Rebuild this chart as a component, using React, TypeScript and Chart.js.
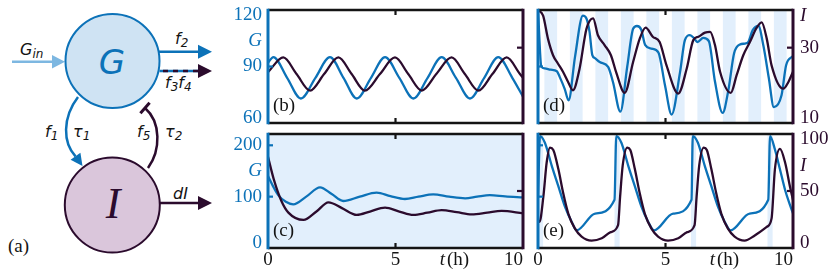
import React, { useEffect, useRef } from 'react';
import { Chart, registerables } from 'chart.js';
Chart.register(...registerables);

const BLUE = '#0c72b8';
const DARK = '#2b0b2d';
const LIGHT = '#e2effc';
const INK = '#141414';
const LIN = '#7db7e1';
const GFILL = '#cfe3f3';
const IFILL = '#dac6db';
const SERIF = '"Liberation Serif", "Times New Roman", serif';
const SANS = '"DejaVu Sans", sans-serif';

// ---------- data (t in hours) ----------
// panel (b): G (left, 60-120), I (right, 10-40)
const bGT = [0, 0.21, 0.75, 1.29, 1.86, 2.43, 2.96, 3.48, 4.04, 4.59, 5.15, 5.7, 6.26, 6.81, 7.37, 7.92, 8.48, 9.03, 9.58, 10];
const bG = [92, 95, 84, 73, 84, 95, 84, 73, 84, 95, 84, 73, 84, 95, 84, 73, 84, 95, 84, 74];
const bIT = [0, 0.6, 1.12, 1.65, 2.2, 2.76, 3.28, 3.8, 4.39, 4.98, 5.5, 6.03, 6.6, 7.2, 7.72, 8.25, 8.8, 9.36, 9.88, 10];
const bI = [23.5, 27.4, 23, 18.6, 23, 27.4, 23, 18.6, 23, 27.4, 23, 18.6, 23, 27.4, 23, 18.6, 23, 27.4, 23, 22];

// panel (c): G (left, 0-222), I (right, 0-100)
const cGT = [0, 0.2, 0.4, 0.7, 0.99, 1.5, 2.04, 2.5, 2.95, 3.6, 4.26, 4.8, 5.37, 5.9, 6.48, 7.1, 7.73, 8.2, 8.7, 9.3, 10];
const cG = [140, 120, 103, 90, 85, 100, 118, 105, 91.5, 100, 107.7, 101, 95.4, 100, 104.5, 100, 96.8, 100, 103, 100.5, 98.7];
const cIT = [0, 0.23, 0.53, 0.8, 1.39, 1.9, 2.37, 2.9, 3.48, 4.0, 4.59, 5.15, 5.7, 6.25, 6.81, 7.4, 7.99, 8.6, 9.16, 10];
const cI = [80, 60, 41, 31, 24.6, 32, 40, 35, 29, 32, 35.4, 32, 29, 31, 33.3, 31.5, 29.5, 31, 32.5, 30.4];

// panel (d): G (left, 60-120), I (right, 10-40)
const dGT = [0, 0.13, 0.26, 0.5, 0.74, 0.85, 1.05, 1.2, 1.45, 1.76, 1.9, 2.02, 2.13, 2.22, 2.42, 2.75, 2.94, 3.23, 3.5, 3.73, 3.88, 4.05, 4.2, 4.45, 4.72, 4.98, 5.24, 5.57, 5.76, 5.96, 6.12, 6.25, 6.48, 6.7, 6.94, 7.24, 7.46, 7.69, 7.92, 8.12, 8.25, 8.42, 8.64, 8.84, 9.05, 9.25, 9.55, 9.73, 10];
const dG = [120, 90, 89, 88.3, 87.5, 84.5, 78, 72, 95, 117, 115.5, 108.5, 96, 94.6, 92.4, 89.8, 81.8, 66, 90, 110, 111.5, 109.5, 101.5, 99.5, 97.5, 80, 64.5, 87, 104, 106.7, 105, 103, 105.2, 103.5, 82, 65.4, 77, 97, 101.7, 102.2, 103.1, 109.3, 111.6, 101, 84, 68.4, 74.7, 90.7, 95.6];
const dIT = [0, 0.2, 0.39, 0.59, 0.78, 0.98, 1.18, 1.37, 1.63, 1.9, 2.16, 2.35, 2.61, 2.86, 3.06, 3.4, 3.73, 3.99, 4.22, 4.5, 4.77, 5.04, 5.5, 5.83, 6.09, 6.29, 6.55, 6.75, 6.94, 7.14, 7.56, 7.79, 8.05, 8.31, 8.56, 8.77, 8.97, 9.16, 9.62, 9.82, 10];
const dI = [40, 38.5, 32.4, 28, 25.8, 23.6, 20.9, 18.7, 24.4, 35, 37.8, 33.3, 30.7, 28, 23.6, 18, 26.2, 32.4, 35.3, 32.9, 31.5, 25.3, 17.8, 24.4, 32, 32.9, 34, 34.2, 30.7, 23.6, 18, 22.7, 28, 31.5, 35.1, 36.7, 32.4, 25.3, 19.1, 20.9, 23.6];
const dStripeStart = [0.25, 1.25, 2.25, 3.25, 4.25, 5.25, 6.25, 7.25, 8.25, 9.25];
const dStripeEnd = [0.75, 1.75, 2.75, 3.75, 4.75, 5.75, 6.75, 7.75, 8.75, 9.75];

// panel (e): G (left, 0-222), I (right, 0-100)
const eGT = [0, 0.08, 0.27, 0.54, 0.8, 1.06, 1.32, 1.52, 2.24, 3.0, 3.07, 3.27, 3.54, 3.8, 4.06, 4.32, 4.55, 5.3, 6.02, 6.07, 6.27, 6.54, 6.8, 7.06, 7.32, 7.55, 8.3, 9.03, 9.1, 9.29, 9.49, 9.69, 9.88, 10];
const eG = [100, 218, 205, 160, 120, 80, 51, 34.5, 67, 94, 218, 205, 160, 120, 80, 51, 34.5, 67, 94, 218, 205, 160, 120, 80, 51, 34.5, 67, 94, 218, 192, 153, 113, 84, 67.5];
const eIT = [0, 0.06, 0.21, 0.34, 0.47, 0.6, 0.8, 0.99, 1.19, 1.45, 1.71, 2.1, 2.5, 2.85, 3.14, 3.22, 3.32, 3.5, 3.62, 3.8, 3.99, 4.19, 4.45, 4.71, 5.1, 5.5, 5.85, 6.14, 6.22, 6.32, 6.5, 6.62, 6.8, 6.99, 7.19, 7.45, 7.71, 8.1, 8.5, 8.97, 9.16, 9.29, 9.49, 9.69, 9.88, 10];
const eI = [24, 23, 45, 75, 88, 86, 69, 48, 30, 17, 10, 6.5, 8.5, 14, 20, 45, 72, 88, 86, 69, 48, 30, 17, 10, 6.5, 8.5, 14, 20, 45, 72, 88, 86, 69, 48, 30, 17, 10, 6.5, 11, 18.5, 26, 69, 87, 75, 54, 42];
const eStripeStart = [0, 3, 6, 9];
const eStripeEnd = [0.2, 3.2, 6.2, 9.2];

// axis tick labels
const xTickVals = [0, 5, 6.84, 7.45, 10];
const xTickText = ['0', '5', 't', '(h)', '10'];
const xMarks = [5];
const gTicksTop = [60, 90, 120];
const gTicksBottom = [0, 100, 200];
const iTicksTop = [10, 30];
const iTicksBottom = [0, 50, 100];

type Spec = {
  gT: number[]; gV: number[]; iT: number[]; iV: number[];
  gMin: number; gMax: number; iMin: number; iMax: number;
  gLabels: number[] | null; gLetterAt: number;
  iLabels: number[] | null; iLetterAt: number;
  showX: boolean; wl: number; wr: number; hx: number; pt: number;
  sS: number[] | null; sE: number[] | null; fullBg: boolean; label: string;
  gMarks: number[]; iMarks: number[];
};

const pts = (t: number[], v: number[]) => t.map((x, i) => ({ x, y: v[i] }));

function makeDeco(s: Spec) {
  const seg = (ctx: CanvasRenderingContext2D, x1: number, y1: number, x2: number, y2: number) => {
    ctx.beginPath(); ctx.moveTo(x1, y1); ctx.lineTo(x2, y2); ctx.stroke();
  };
  return {
    id: 'deco',
    beforeDatasetsDraw(chart: any) {
      const { ctx, chartArea: a, scales } = chart;
      ctx.save();
      ctx.fillStyle = LIGHT;
      if (s.fullBg) ctx.fillRect(a.left, a.top, a.right - a.left, a.bottom - a.top);
      if (s.sS && s.sE) {
        s.sS.forEach((st, k) => {
          const x0 = scales.x.getPixelForValue(st);
          const x1 = scales.x.getPixelForValue(s.sE![k]);
          ctx.fillRect(x0, a.top, x1 - x0, a.bottom - a.top);
        });
      }
      ctx.restore();
    },
    afterDatasetsDraw(chart: any) {
      const { ctx, chartArea: a, scales } = chart;
      ctx.save();
      ctx.lineCap = 'butt';
      ctx.lineWidth = 2.2;
      ctx.strokeStyle = INK;
      xMarks.forEach((v) => {
        const x = scales.x.getPixelForValue(v);
        seg(ctx, x, a.top, x, a.top + 5);
        seg(ctx, x, a.bottom, x, a.bottom - 5);
      });
      ctx.strokeStyle = BLUE;
      s.gMarks.forEach((v) => { const y = scales.yG.getPixelForValue(v); seg(ctx, a.left, y, a.left + 5, y); });
      ctx.strokeStyle = DARK;
      s.iMarks.forEach((v) => { const y = scales.yI.getPixelForValue(v); seg(ctx, a.right, y, a.right - 6, y); });
      ctx.lineWidth = 2.5;
      ctx.strokeStyle = INK;
      seg(ctx, a.left, a.top, a.right, a.top);
      seg(ctx, a.left, a.bottom, a.right, a.bottom);
      ctx.lineWidth = 3;
      ctx.strokeStyle = DARK;
      seg(ctx, a.right, a.top - 1.25, a.right, a.bottom + 1.25);
      ctx.strokeStyle = BLUE;
      seg(ctx, a.left, a.top - 1.25, a.left, a.bottom + 1.25);
      ctx.fillStyle = INK;
      ctx.font = `19px ${SERIF}`;
      ctx.textBaseline = 'alphabetic';
      ctx.textAlign = 'left';
      ctx.fillText(s.label, a.left + 5, a.bottom - 12);
      ctx.restore();
    },
  };
}

function yAxis(pos: 'left' | 'right', min: number, max: number, labels: number[] | null, letter: string, letterAt: number, color: string, width: number, pad: number) {
  return {
    type: 'linear', position: pos, min, max, display: true,
    grid: { display: false, drawTicks: false },
    border: { display: false },
    afterFit: (sc: any) => { sc.width = width; },
    afterBuildTicks: (sc: any) => {
      if (labels) {
        const vals = [...labels, letterAt].sort((p, q) => p - q);
        sc.ticks = vals.map((v) => ({ value: v }));
      }
    },
    ticks: {
      display: !!labels,
      autoSkip: false,
      padding: pad,
      color,
      callback: (v: number) => {
        if (v === letterAt) return letter;
        const t = String(v);
        if (v === max) return ['', t];
        if (v === min) return [t, ''];
        return t;
      },
      font: (c: any) => {
        const v = c.tick ? c.tick.value : null;
        return {
          family: SERIF, size: 19,
          style: v === letterAt ? 'italic' : 'normal',
          lineHeight: v === max || v === min ? 0.55 : 1.2,
        };
      },
    },
  };
}

function makeConfig(s: Spec): any {
  return {
    type: 'line',
    data: {
      datasets: [
        { data: pts(s.iT, s.iV), yAxisID: 'yI', borderColor: DARK, borderWidth: 2.3, pointRadius: 0, cubicInterpolationMode: 'monotone', fill: false },
        { data: pts(s.gT, s.gV), yAxisID: 'yG', borderColor: BLUE, borderWidth: 2.3, pointRadius: 0, cubicInterpolationMode: 'monotone', fill: false },
      ],
    },
    options: {
      animation: false,
      responsive: false,
      devicePixelRatio: 1,
      events: [],
      layout: { padding: { top: s.pt, left: 0, right: 0, bottom: 0 } },
      plugins: { legend: { display: false }, tooltip: { enabled: false } },
      scales: {
        x: {
          type: 'linear', min: 0, max: 10, position: 'bottom', display: true,
          grid: { display: false, drawTicks: false },
          border: { display: false },
          afterFit: (sc: any) => { sc.height = s.hx; },
          afterBuildTicks: (sc: any) => { sc.ticks = xTickVals.map((v) => ({ value: v })); },
          ticks: {
            display: s.showX, autoSkip: false, maxRotation: 0, minRotation: 0, padding: 1, color: INK,
            callback: (v: number) => {
              const t = xTickText[xTickVals.indexOf(v)] ?? '';
              return t === '10' ? '10\u2007\u2007' : t;
            },
            font: (c: any) => ({ family: SERIF, size: 19, style: c.tick && c.tick.value === 6.84 ? 'italic' : 'normal' }),
          },
        },
        yG: yAxis('left', s.gMin, s.gMax, s.gLabels, 'G', s.gLetterAt, BLUE, s.wl, 6),
        yI: yAxis('right', s.iMin, s.iMax, s.iLabels, 'I', s.iLetterAt, DARK, s.wr, 7),
      },
    },
    plugins: [makeDeco(s)],
  };
}

const specB: Spec = {
  gT: bGT, gV: bG, iT: bIT, iV: bI, gMin: 60, gMax: 120, iMin: 10, iMax: 40,
  gLabels: gTicksTop, gLetterAt: 103.5, iLabels: null, iLetterAt: -999,
  showX: false, wl: 50, wr: 25, hx: 27, pt: 30, sS: null, sE: null, fullBg: false, label: '(b)',
  gMarks: [90], iMarks: [30],
};
const specC: Spec = {
  gT: cGT, gV: cG, iT: cIT, iV: cI, gMin: 0, gMax: 222, iMin: 0, iMax: 100,
  gLabels: gTicksBottom, gLetterAt: 150, iLabels: null, iLetterAt: -999,
  showX: true, wl: 50, wr: 25, hx: 26, pt: 30, sS: null, sE: null, fullBg: true, label: '(c)',
  gMarks: [100, 200], iMarks: [50],
};
const specD: Spec = {
  gT: dGT, gV: dG, iT: dIT, iV: dI, gMin: 60, gMax: 120, iMin: 10, iMax: 40,
  gLabels: null, gLetterAt: -999, iLabels: iTicksTop, iLetterAt: 38.4,
  showX: false, wl: 10, wr: 37, hx: 27, pt: 30, sS: dStripeStart, sE: dStripeEnd, fullBg: false, label: '(d)',
  gMarks: [90], iMarks: [30],
};
const specE: Spec = {
  gT: eGT, gV: eG, iT: eIT, iV: eI, gMin: 0, gMax: 222, iMin: 0, iMax: 100,
  gLabels: null, gLetterAt: -999, iLabels: iTicksBottom, iLetterAt: 72,
  showX: true, wl: 10, wr: 37, hx: 26, pt: 30, sS: eStripeStart, sE: eStripeEnd, fullBg: false, label: '(e)',
  gMarks: [100, 200], iMarks: [50],
};

function Panel({ left, top, width, height, spec }: { left: number; top: number; width: number; height: number; spec: Spec }) {
  const ref = useRef<HTMLCanvasElement>(null);
  useEffect(() => {
    const chart = new Chart(ref.current!, makeConfig(spec));
    return () => chart.destroy();
  }, [spec]);
  return <canvas ref={ref} width={width} height={height} style={{ position: 'absolute', left, top, width, height }} />;
}

function Diagram() {
  const it = { fontFamily: SANS, fontStyle: 'italic' as const, fontSize: 16, fill: INK };
  return (
    <svg width={230} height={274} style={{ position: 'absolute', left: 0, top: 0 }}>
      {/* G_in */}
      <line x1={12} y1={61.7} x2={53} y2={61.7} stroke={LIN} strokeWidth={2.5} />
      <polygon points="52,55 65,61.7 52,68.4" fill={LIN} />
      <text x={20} y={55} {...it}>G<tspan fontSize={12} dy={3}>in</tspan></text>
      {/* G node */}
      <circle cx={112.5} cy={61} r={47} fill={GFILL} stroke={BLUE} strokeWidth={2} />
      <text x={112} y={74} textAnchor="middle" fill={BLUE} fontFamily={SANS} fontStyle="italic" fontSize={34}>G</text>
      {/* f2 */}
      <line x1={159} y1={51.7} x2={200} y2={51.7} stroke={BLUE} strokeWidth={2.5} />
      <polygon points="198,44.7 212,51.7 198,58.7" fill={BLUE} />
      <text x={175} y={44} {...it}>f<tspan fontSize={12} dy={3}>2</tspan></text>
      {/* f3 f4 */}
      <line x1={159.5} y1={71} x2={200} y2={71} stroke={BLUE} strokeWidth={2.5} />
      <line x1={163} y1={71} x2={200} y2={71} stroke={DARK} strokeWidth={2.5} strokeDasharray="5 5" />
      <polygon points="198,64 212,71 198,78" fill={DARK} />
      <text x={165} y={88} {...it}>f<tspan fontSize={12} dy={3}>3</tspan><tspan fontSize={16} dy={-3}>f</tspan><tspan fontSize={12} dy={3}>4</tspan></text>
      {/* f1 arc */}
      <path d="M 78 97 C 62 118, 63 143, 75.5 156.3" fill="none" stroke={BLUE} strokeWidth={2.5} />
      <polygon points="82.5,166 70.6,159.8 80.4,152.8" fill={BLUE} />
      <text x={45} y={137} {...it}>f<tspan fontSize={12} dy={3}>1</tspan></text>
      <text x={73} y={137} {...it}>τ<tspan fontSize={12} dy={3}>1</tspan></text>
      {/* f5 inhibition arc */}
      <path d="M 148 168 C 161 150, 161 122, 145 108" fill="none" stroke={DARK} strokeWidth={2.5} />
      <line x1={149.6} y1={102.7} x2={140.4} y2={113.3} stroke={DARK} strokeWidth={3} />
      <text x={137} y={137} {...it}>f<tspan fontSize={12} dy={3}>5</tspan></text>
      <text x={165} y={137} {...it}>τ<tspan fontSize={12} dy={3}>2</tspan></text>
      {/* I node */}
      <circle cx={112.3} cy={205} r={47.5} fill={IFILL} stroke={DARK} strokeWidth={2} />
      <text x={113} y={218} textAnchor="middle" fill={DARK} fontFamily={SERIF} fontStyle="italic" fontSize={44}>I</text>
      {/* dI */}
      <line x1={160} y1={203} x2={200} y2={203} stroke={DARK} strokeWidth={2.5} />
      <polygon points="198,196 212,203 198,210" fill={DARK} />
      <text x={173} y={199} {...it}>dI</text>
      <text x={8} y={252} fill={INK} fontFamily={SERIF} fontSize={19}>(a)</text>
    </svg>
  );
}

export default function App() {
  return (
    <div style={{ position: 'absolute', left: 0, top: 0, width: 830, height: 274, background: '#fff', overflow: 'hidden' }}>
      <Diagram />
      <Panel left={218} top={-20} width={330} height={170} spec={specB} />
      <Panel left={528} top={-20} width={302} height={170} spec={specD} />
      <Panel left={218} top={104} width={330} height={170} spec={specC} />
      <Panel left={528} top={104} width={302} height={170} spec={specE} />
    </div>
  );
}
